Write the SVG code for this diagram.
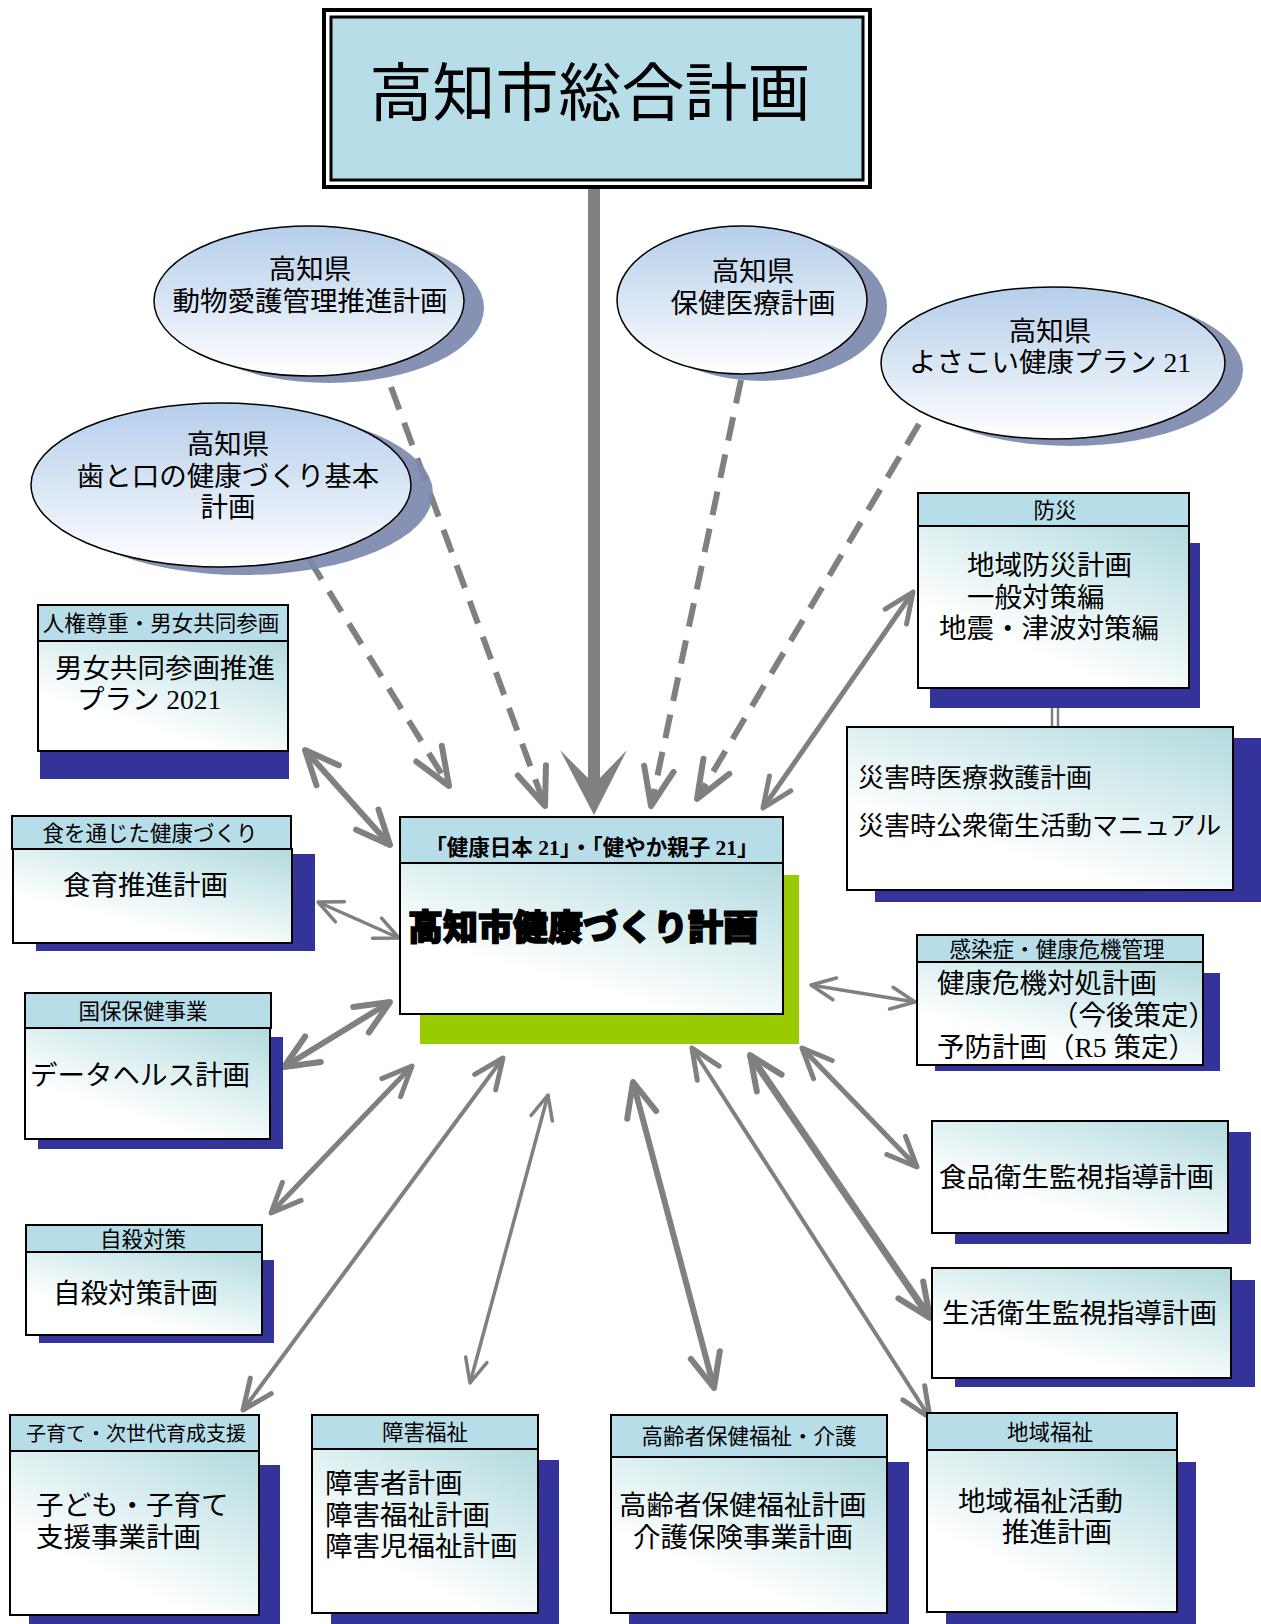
<svg xmlns="http://www.w3.org/2000/svg" width="1261" height="1624" viewBox="0 0 1261 1624">
<defs>
<linearGradient id="ellG" x1="0" y1="0" x2="0" y2="1">
<stop offset="0" stop-color="#B5CEEB"/>
<stop offset="0.55" stop-color="#DCE8F5"/>
<stop offset="1" stop-color="#FFFFFF"/>
</linearGradient>
<linearGradient id="bodyG" x1="1" y1="0" x2="0.3" y2="1">
<stop offset="0" stop-color="#B3DADE"/>
<stop offset="0.35" stop-color="#D3EBED"/>
<stop offset="0.8" stop-color="#FFFFFF"/>
</linearGradient>
<marker id="mL" markerUnits="userSpaceOnUse" orient="auto-start-reverse" refX="0" refY="0" markerWidth="1" markerHeight="1" overflow="visible">
<path d="M-34,-15 L0,0 L-34,15" fill="none" stroke="#808080" stroke-width="6" stroke-linecap="round" stroke-linejoin="round"/>
</marker>
<marker id="mM" markerUnits="userSpaceOnUse" orient="auto-start-reverse" refX="0" refY="0" markerWidth="1" markerHeight="1" overflow="visible">
<path d="M-30,-13 L0,0 L-30,13" fill="none" stroke="#808080" stroke-width="5" stroke-linecap="round" stroke-linejoin="round"/>
</marker>
<marker id="mS" markerUnits="userSpaceOnUse" orient="auto-start-reverse" refX="0" refY="0" markerWidth="1" markerHeight="1" overflow="visible">
<path d="M-24,-11 L0,0 L-24,11" fill="none" stroke="#808080" stroke-width="3.5" stroke-linecap="round" stroke-linejoin="round"/>
</marker>
<marker id="mD" markerUnits="userSpaceOnUse" orient="auto" refX="0" refY="0" markerWidth="1" markerHeight="1" overflow="visible">
<path d="M-38,-15 L0,0 L-38,15" fill="none" stroke="#808080" stroke-width="6" stroke-linecap="round" stroke-linejoin="round" stroke-dasharray="none"/>
</marker>
<style>
.hdr{fill:#B7DDE8;stroke:#000;stroke-width:2}
.body{fill:url(#bodyG);stroke:#000;stroke-width:2}
.sh{fill:#333399}
.esh{fill:#7B89AC;opacity:0.92}
.ell{fill:url(#ellG);stroke:#000;stroke-width:1.5}
.t{font-family:"Liberation Serif","Noto Sans CJK JP",serif;font-size:27.5px;fill:#000}
.t26{font-size:26px}
.h{font-family:"Noto Sans CJK JP","Liberation Sans",sans-serif;font-size:21.5px;fill:#000}
.h20{font-size:20px}
.c{text-anchor:middle}
.con{fill:none;stroke:#808080}
.dash{stroke-width:6;stroke-dasharray:24 14}
</style>
</defs>
<rect width="1261" height="1624" fill="#FFFFFF"/>

<g id="connectors">
<line class="con" x1="1052" y1="688" x2="1052" y2="728" stroke-width="2.5"/>
<line class="con" x1="1058" y1="688" x2="1058" y2="728" stroke-width="2.5"/>
<line class="con dash" x1="391" y1="387" x2="545" y2="806" marker-end="url(#mD)"/>
<line class="con dash" x1="309" y1="559" x2="449" y2="786" marker-end="url(#mD)"/>
<line class="con dash" x1="741" y1="380" x2="651" y2="806" marker-end="url(#mD)"/>
<line class="con dash" x1="919" y1="424" x2="697" y2="799" marker-end="url(#mD)"/>
<rect x="588" y="187" width="12" height="603" fill="#808080"/>
<polygon points="560,750 594,784 627,750 594,815" fill="#808080"/>
<line class="con" x1="305" y1="750" x2="390" y2="845" stroke-width="6" marker-start="url(#mL)" marker-end="url(#mL)"/>
<line class="con" x1="318" y1="902" x2="399" y2="938" stroke-width="3.5" marker-start="url(#mS)" marker-end="url(#mS)"/>
<line class="con" x1="284" y1="1067" x2="390" y2="1002" stroke-width="6" marker-start="url(#mL)" marker-end="url(#mL)"/>
<line class="con" x1="271" y1="1213" x2="412" y2="1066" stroke-width="5" marker-start="url(#mM)" marker-end="url(#mM)"/>
<line class="con" x1="243" y1="1410" x2="503" y2="1058" stroke-width="4" marker-start="url(#mM)" marker-end="url(#mM)"/>
<line class="con" x1="470" y1="1383" x2="548" y2="1095" stroke-width="3.5" marker-start="url(#mS)" marker-end="url(#mS)"/>
<line class="con" x1="633" y1="1082" x2="714" y2="1388" stroke-width="6" marker-start="url(#mL)" marker-end="url(#mL)"/>
<line class="con" x1="692" y1="1048" x2="930" y2="1418" stroke-width="4" marker-start="url(#mM)" marker-end="url(#mM)"/>
<line class="con" x1="750" y1="1055" x2="930" y2="1318" stroke-width="7" marker-start="url(#mL)" marker-end="url(#mL)"/>
<line class="con" x1="802" y1="1048" x2="917" y2="1167" stroke-width="5" marker-start="url(#mM)" marker-end="url(#mM)"/>
<line class="con" x1="811" y1="985" x2="915" y2="1002" stroke-width="3.5" marker-start="url(#mS)" marker-end="url(#mS)"/>
<line class="con" x1="763" y1="808" x2="913" y2="592" stroke-width="5" marker-start="url(#mM)" marker-end="url(#mM)"/>
</g>

<g id="n-sogo">
<rect x="324" y="10" width="546" height="177" fill="#FFFFFF" stroke="#000" stroke-width="4"/>
<rect x="331" y="17" width="532" height="163" fill="#B7DDE8" stroke="#000" stroke-width="3"/>
<text x="590" y="115" class="c" font-family="Noto Sans CJK JP, sans-serif" font-size="63">高知市総合計画</text>
</g>

<g id="n-doubutsu">
<ellipse class="esh" cx="329" cy="308" rx="155" ry="75"/>
<ellipse class="ell" cx="309" cy="301" rx="155" ry="75"/>
<text class="t c" x="310" y="279">高知県</text>
<text class="t c" x="310" y="311">動物愛護管理推進計画</text>
</g>

<g id="n-ha">
<ellipse class="esh" cx="243" cy="493" rx="190" ry="82"/>
<ellipse class="ell" cx="221" cy="485" rx="190" ry="82"/>
<text class="t c" x="228" y="454">高知県</text>
<text class="t c" x="228" y="486">歯と口の健康づくり基本</text>
<text class="t c" x="228" y="517">計画</text>
</g>

<g id="n-hoken">
<ellipse class="esh" cx="762" cy="307" rx="125" ry="74"/>
<ellipse class="ell" cx="742" cy="300" rx="125" ry="74"/>
<text class="t c" x="753" y="281">高知県</text>
<text class="t c" x="753" y="313">保健医療計画</text>
</g>

<g id="n-yosakoi">
<ellipse class="esh" cx="1071" cy="370" rx="172" ry="76"/>
<ellipse class="ell" cx="1053" cy="363" rx="172" ry="76"/>
<text class="t c" x="1050" y="341">高知県</text>
<text class="t c" x="1050" y="372">よさこい健康プラン 21</text>
</g>

<g id="n-center">
<rect x="420" y="875" width="379" height="169" fill="#99CC00"/>
<rect class="body" x="400" y="863" width="383" height="151"/>
<rect class="hdr" x="400" y="817" width="383" height="46"/>
<text x="592" y="855" class="c" font-family="Liberation Serif, Noto Sans CJK JP, serif" font-size="21.5" font-weight="bold">「健康日本 21」・「健やか親子 21」</text>
<text x="408" y="940" font-family="Noto Sans CJK JP, sans-serif" font-size="35" font-weight="900" stroke="#000" stroke-width="1.5">高知市健康づくり計画</text>
</g>

<g id="n-danjo">
<rect class="sh" x="40" y="665" width="249" height="114"/>
<rect class="body" x="38" y="641" width="250" height="110"/>
<rect class="hdr" x="38" y="605" width="250" height="36"/>
<text class="h c" x="161" y="631">人権尊重・男女共同参画</text>
<text class="t" x="55" y="678">男女共同参画推進</text>
<text class="t" x="77" y="709">プラン 2021</text>
</g>

<g id="n-shokuiku">
<rect class="sh" x="36" y="854" width="279" height="97"/>
<rect class="body" x="13" y="849" width="279" height="94"/>
<rect class="hdr" x="12" y="816" width="279" height="33"/>
<text class="h c" x="150" y="841">食を通じた健康づくり</text>
<text class="t" x="63" y="895">食育推進計画</text>
</g>

<g id="n-kokuho">
<rect class="sh" x="38" y="1037" width="245" height="112"/>
<rect class="body" x="25" y="1028" width="245" height="111"/>
<rect class="hdr" x="25" y="993" width="246" height="35"/>
<text class="h c" x="143" y="1019">国保保健事業</text>
<text class="t" x="30" y="1085">データヘルス計画</text>
</g>

<g id="n-jisatsu">
<rect class="sh" x="39" y="1260" width="235" height="83"/>
<rect class="body" x="26" y="1252" width="236" height="83"/>
<rect class="hdr" x="26" y="1225" width="236" height="27"/>
<text class="h c" x="143" y="1247">自殺対策</text>
<text class="t" x="53" y="1303">自殺対策計画</text>
</g>

<g id="n-kosodate">
<rect class="sh" x="29" y="1465" width="251" height="159"/>
<rect class="body" x="10" y="1451" width="249" height="164"/>
<rect class="hdr" x="10" y="1415" width="249" height="36"/>
<text class="h h20 c" x="136" y="1441">子育て・次世代育成支援</text>
<text class="t" x="36" y="1515">子ども・子育て</text>
<text class="t" x="36" y="1547">支援事業計画</text>
</g>

<g id="n-shougai">
<rect class="sh" x="331" y="1460" width="228" height="164"/>
<rect class="body" x="312" y="1449" width="226" height="164"/>
<rect class="hdr" x="312" y="1415" width="226" height="34"/>
<text class="h c" x="425" y="1440">障害福祉</text>
<text class="t" x="325" y="1493">障害者計画</text>
<text class="t" x="325" y="1525">障害福祉計画</text>
<text class="t" x="325" y="1556">障害児福祉計画</text>
</g>

<g id="n-koureisha">
<rect class="sh" x="629" y="1462" width="280" height="162"/>
<rect class="body" x="611" y="1457" width="276" height="156"/>
<rect class="hdr" x="611" y="1415" width="276" height="42"/>
<text class="h c" x="749" y="1444">高齢者保健福祉・介護</text>
<text class="t" x="619" y="1515">高齢者保健福祉計画</text>
<text class="t" x="633" y="1547">介護保険事業計画</text>
</g>

<g id="n-chiiki">
<rect class="sh" x="946" y="1462" width="250" height="162"/>
<rect class="body" x="927" y="1450" width="250" height="162"/>
<rect class="hdr" x="927" y="1413" width="250" height="37"/>
<text class="h c" x="1050" y="1440">地域福祉</text>
<text class="t" x="958" y="1511">地域福祉活動</text>
<text class="t" x="1002" y="1542">推進計画</text>
</g>

<g id="n-bousai">
<rect class="sh" x="930" y="543" width="270" height="165"/>
<rect class="body" x="918" y="526" width="271" height="162"/>
<rect class="hdr" x="918" y="493" width="271" height="33"/>
<text class="h c" x="1055" y="518">防災</text>
<text class="t" x="967" y="575">地域防災計画</text>
<text class="t" x="967" y="607">一般対策編</text>
<text class="t" x="939" y="638">地震・津波対策編</text>
</g>

<g id="n-saigai">
<rect class="sh" x="875" y="738" width="386" height="164"/>
<rect class="body" x="847" y="727" width="386" height="163"/>
<text class="t t26" x="858" y="787">災害時医療救護計画</text>
<text class="t t26" x="858" y="835">災害時公衆衛生活動マニュアル</text>
</g>

<g id="n-kansen">
<rect class="sh" x="935" y="973" width="285" height="98"/>
<rect class="body" x="917" y="962" width="286" height="103"/>
<rect class="hdr" x="917" y="935" width="286" height="27"/>
<text class="h c" x="1057" y="957">感染症・健康危機管理</text>
<text class="t" x="937" y="993">健康危機対処計画</text>
<text class="t" x="1051" y="1025">（今後策定）</text>
<text class="t" x="937" y="1057">予防計画（R5 策定）</text>
</g>

<g id="n-shokuhin">
<rect class="sh" x="955" y="1132" width="296" height="112"/>
<rect class="body" x="932" y="1121" width="296" height="112"/>
<text class="t" x="939" y="1187">食品衛生監視指導計画</text>
</g>

<g id="n-seikatsu">
<rect class="sh" x="955" y="1280" width="300" height="107"/>
<rect class="body" x="932" y="1268" width="299" height="110"/>
<text class="t" x="942" y="1323">生活衛生監視指導計画</text>
</g>
</svg>
